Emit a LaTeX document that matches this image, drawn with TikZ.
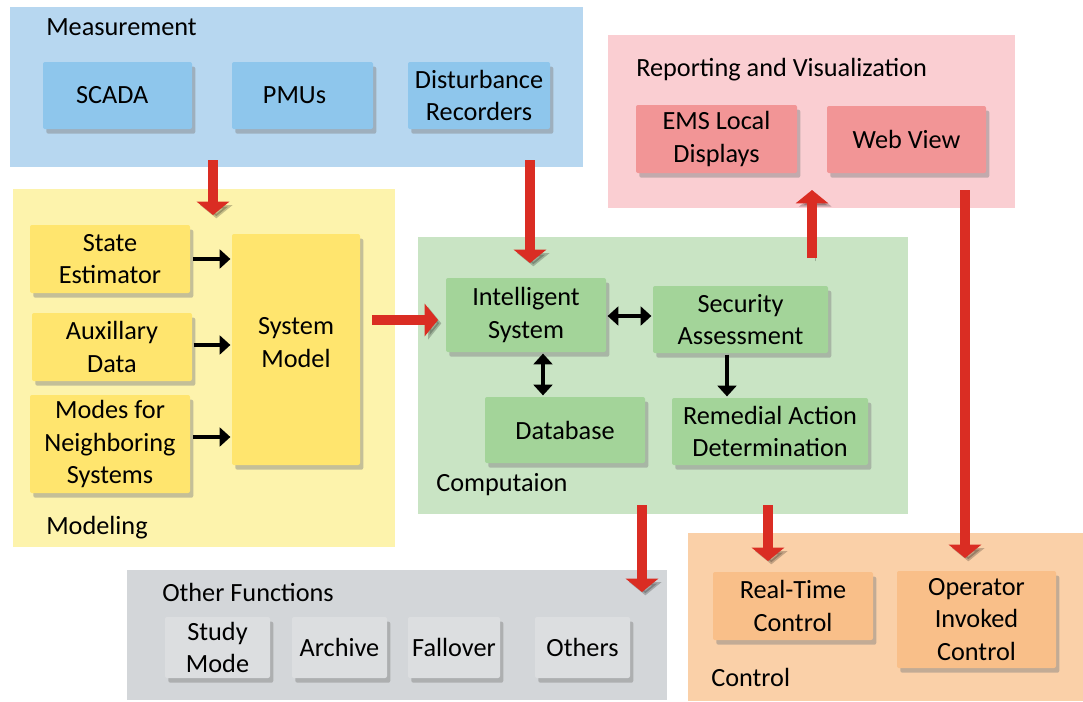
\documentclass[tikz,border=0pt]{standalone}
\usepackage{fontspec}
\setmainfont{Carlito}
\usetikzlibrary{arrows.meta,shadows,fit}
\definecolor{measbg}{RGB}{183,215,240}
\definecolor{measbox}{RGB}{142,198,236}
\definecolor{modbg}{RGB}{253,243,172}
\definecolor{modbox}{RGB}{255,229,110}
\definecolor{compbg}{RGB}{201,228,196}
\definecolor{compbox}{RGB}{163,212,153}
\definecolor{repbg}{RGB}{250,206,210}
\definecolor{repbox}{RGB}{242,149,150}
\definecolor{othbg}{RGB}{211,214,217}
\definecolor{othbox}{RGB}{220,222,224}
\definecolor{ctlbg}{RGB}{250,208,168}
\definecolor{ctlbox}{RGB}{249,191,137}
\definecolor{arrred}{RGB}{218,45,35}
\begin{document}
\begin{tikzpicture}[x=0.75pt,y=-0.75pt,
  font=\fontsize{19.7}{24.5}\selectfont,
  panel/.style={inner sep=0pt, draw=none},
  box/.style={inner sep=0pt, rounded corners=1.5pt,
    drop shadow={shadow xshift=2.5pt, shadow yshift=-3.5pt, opacity=0.45}},
  lab/.style={align=center, inner sep=0pt},
  title/.style={anchor=west, inner sep=0pt},
  redarr/.style={line width=8pt, draw=arrred,
    -{Triangle[width=24pt,length=10pt]},
    preaction={draw=black, opacity=0.22, transform canvas={shift={(2.5pt,-2.5pt)}}}},
  blkarr/.style={line width=3.5pt, draw=black, -{Triangle[width=14pt,length=8pt]}},
  blkdbl/.style={line width=3.5pt, draw=black, {Triangle[width=14pt,length=8pt]}-{Triangle[width=14pt,length=8pt]}}
]
\useasboundingbox (0,0) rectangle (1083,701);

% panels
\node[panel, fill=measbg, fit={(10,7) (583,167)}] (meas) {};
\node[panel, fill=modbg, fit={(13,189) (395,547)}] (model) {};
\node[panel, fill=compbg, fit={(418,237) (908,514)}] (comp) {};
\node[panel, fill=repbg, fit={(608,35) (1015,208)}] (report) {};
\node[panel, fill=othbg, fit={(127,570) (667,700)}] (other) {};
\node[panel, fill=ctlbg, fit={(688,533) (1083,701)}] (control) {};

% titles
\node[title] (tmeas) at (46,27) {Measurement};
\node[title] (tmodel) at (46,528) {Modeling};
\node[title] (tcomp) at (436,485) {Computaion};
\node[title] (trep) at (636,70) {Reporting and Visualization};
\node[title] (toth) at (162,592) {Other Functions};
\node[title] (tctl) at (711,677) {Control};

% measurement boxes
\node[box, fill=measbox, fit={(43,62) (192,129)}, label={[lab, xshift=-4pt]center:SCADA}] (scada) {};
\node[box, fill=measbox, fit={(232,62) (373,129)}, label={[lab, xshift=-6pt]center:PMUs}] (pmus) {};
\node[box, fill=measbox, fit={(408,62) (550,129)}, label={[lab]center:{Disturbance\\Recorders}}] (dist) {};

% modeling boxes
\node[box, fill=modbox, fit={(30,225) (190,293)}, label={[lab]center:{State\\Estimator}}] (se) {};
\node[box, fill=modbox, fit={(32,313) (192,381)}, label={[lab]center:{Auxillary\\Data}}] (aux) {};
\node[box, fill=modbox, fit={(30,395) (190,493)}, label={[lab]center:{Modes for\\Neighboring\\Systems}}] (modes) {};
\node[box, fill=modbox, fit={(232,234) (360,465)}, label={[lab, yshift=5pt]center:{System\\Model}}] (sm) {};

% computation boxes
\node[box, fill=compbox, fit={(446,278) (606,352)}, label={[lab]center:{Intelligent\\System}}] (intel) {};
\node[box, fill=compbox, fit={(653,286) (828,353)}, label={[lab]center:{Security\\Assessment}}] (sec) {};
\node[box, fill=compbox, fit={(485,397) (645,463)}, label={[lab]center:Database}] (db) {};
\node[box, fill=compbox, fit={(672,398) (868,465)}, label={[lab]center:{Remedial Action\\Determination}}] (rem) {};

% reporting boxes
\node[box, fill=repbox, fit={(636,105) (797,173)}, label={[lab]center:{EMS Local\\Displays}}] (ems) {};
\node[box, fill=repbox, fit={(827,106) (986,173)}, label={[lab]center:{Web View}}] (web) {};

% other functions boxes
\node[box, fill=othbox, fit={(165,617) (270,678)}, label={[lab]center:{Study\\Mode}}] (study) {};
\node[box, fill=othbox, fit={(292,617) (387,678)}, label={[lab]center:Archive}] (archive) {};
\node[box, fill=othbox, fit={(408,617) (500,678)}, label={[lab]center:Fallover}] (fallover) {};
\node[box, fill=othbox, fit={(535,617) (630,678)}, label={[lab]center:Others}] (others) {};

% control boxes
\node[box, fill=ctlbox, fit={(713,572) (873,640)}, label={[lab]center:{Real-Time\\Control}}] (rt) {};
\node[box, fill=ctlbox, fit={(897,571) (1056,668)}, label={[lab]center:{Operator\\Invoked\\Control}}] (op) {};

% red arrow end points
\coordinate (r1s) at (213,160);
\coordinate (r1e) at (213,215);
\coordinate (r2s) at (530,160);
\coordinate (r2e) at (530,263);
\coordinate (r3s) at (372,320);
\coordinate (r3e) at (438,320);
\coordinate (r4s) at (812,258);
\coordinate (r4e) at (812,190);
\coordinate (r5s) at (965,190);
\coordinate (r5e) at (965,558);
\coordinate (r6s) at (642,505);
\coordinate (r6e) at (642,592);
\coordinate (r7s) at (768,505);
\coordinate (r7e) at (768,561);

\draw[redarr] (r1s) -- (r1e);
\draw[redarr] (r2s) -- (r2e);
\draw[redarr] (r3s) -- (r3e);
\draw[redarr] (r4s) -- (r4e);
\draw[redarr] (r5s) -- (r5e);
\draw[redarr] (r6s) -- (r6e);
\draw[redarr] (r7s) -- (r7e);

% black arrows
\draw[blkarr] ([xshift=2pt]se.east |- 0,259) -- ([xshift=-1pt]sm.west |- 0,259);
\draw[blkarr] ([xshift=1pt]aux.east |- 0,345) -- ([xshift=-1pt]sm.west |- 0,345);
\draw[blkarr] ([xshift=2pt]modes.east |- 0,437) -- ([xshift=-1pt]sm.west |- 0,437);
\draw[blkdbl] ([xshift=1pt]intel.east |- 0,316) -- ([xshift=-1pt]sec.west |- 0,316);
\draw[blkdbl] ([yshift=-1pt]intel.south -| 543,0) -- ([yshift=1pt]db.north -| 543,0);
\draw[blkarr] ([yshift=-1pt]sec.south -| 727,0) -- ([yshift=1pt]rem.north -| 727,0);
\end{tikzpicture}
\end{document}
